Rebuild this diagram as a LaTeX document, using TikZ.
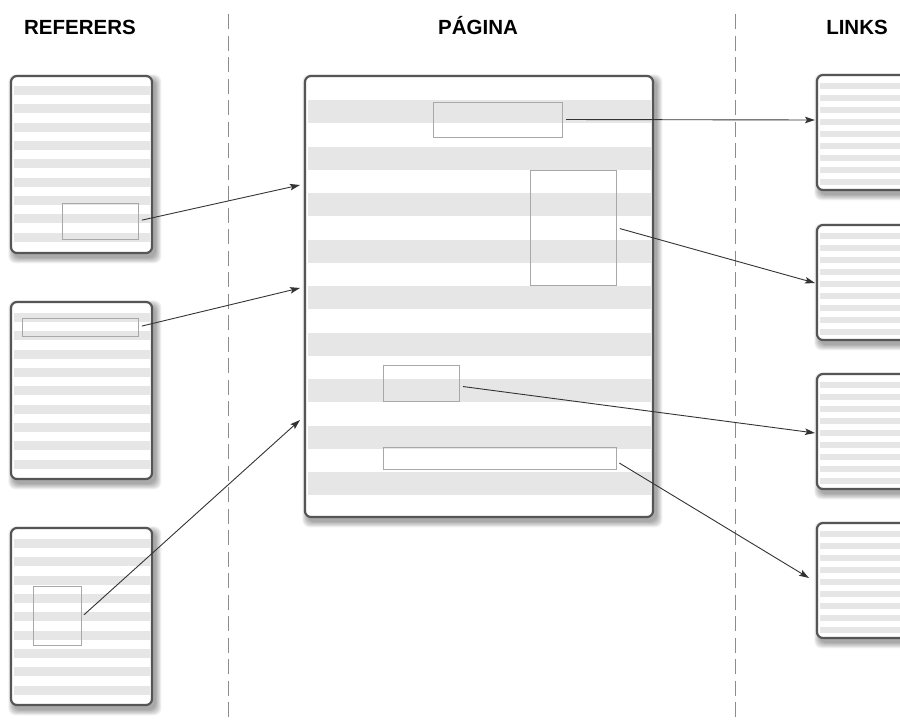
\documentclass[tikz,border=0pt]{standalone}
\usepackage{fontspec}
\setmainfont{Liberation Sans}
\usetikzlibrary{arrows.meta}
\definecolor{stripe}{HTML}{E6E6E6}
\definecolor{framec}{HTML}{555555}
\definecolor{innerc}{HTML}{A8A8A8}
\definecolor{sepc}{HTML}{8C8C8C}
\definecolor{arrowc}{HTML}{333333}
\tikzset{
  pagefill/.style={fill=white,inner sep=0pt,outer sep=0pt,rounded corners=6pt},
  pageborder/.style={draw=framec,line width=2.2pt,rounded corners=6pt},
  innerbox/.style={draw=innerc,line width=0.8pt,inner sep=0pt,outer sep=0pt,anchor=north west},
  linkarrow/.style={draw=arrowc,line width=0.9pt,shorten <=4pt,-{Stealth[length=10pt,width=6.5pt,inset=2pt]}},
  sepline/.style={draw=sepc,line width=1pt,dash pattern=on 15pt off 6.5pt},
  header/.style={font=\fontsize{20.5}{24}\selectfont\bfseries,anchor=base,inner sep=0pt}
}
\newcommand{\pagebox}[9]{%
  \foreach \k in {1,...,7}{%
    \fill[black,opacity=0.055,rounded corners=7pt] ({#2+3-\k*0.8},{#3+4-\k*0.8}) rectangle ({#2+#4+3+\k*0.9},{#3+#5+4+\k*0.9});}
  \node[pagefill,minimum width=#4pt,minimum height=#5pt,anchor=north west] (#1) at (#2,#3) {};
  \pgfmathtruncatemacro\lastidx{#9-1}%
  \foreach \i in {0,...,\lastidx}{%
    \fill[stripe] ({#2+2.5},{#3+#6+\i*#7}) rectangle ({#2+#4-2.5},{#3+#6+\i*#7+#8});}
  \draw[pageborder] (#1.north west) rectangle (#1.south east);
}
\begin{document}
\begin{tikzpicture}[x=1pt,y=-1pt]
\useasboundingbox (0,0) rectangle (900,723);
\clip (0,0) rectangle (900,723);
\fill[white] (0,0) rectangle (900,723);

% separators
\draw[sepline] (228,14) -- (228,723);
\draw[sepline] (735,14) -- (735,723);

% headers
\node[header] (h1) at (80,34) {REFERERS};
\node[header] (h2) at (478,34) {PÁGINA};
\node[header] (h3) at (857,34) {LINKS};

% referers
\pagebox{ref1}{11}{76}{141}{177}{10}{18.33}{9}{9}
\pagebox{ref2}{11}{302}{141}{177}{11}{18.33}{9}{9}
\pagebox{ref3}{11}{528}{141}{177}{11}{18.33}{9}{9}

% main page
\pagebox{main}{305}{76}{348}{441}{24}{46.5}{23}{9}

% links
\pagebox{lk1}{817}{75}{110}{115}{8}{12}{6}{9}
\pagebox{lk2}{817}{225}{110}{115}{8}{12}{6}{9}
\pagebox{lk3}{817}{374}{110}{115}{8}{12}{6}{9}
\pagebox{lk4}{817}{523}{110}{115}{8}{12}{6}{9}

% inner boxes
\node[innerbox,minimum width=76pt,minimum height=36pt] (r1) at (62,203) {};
\node[innerbox,minimum width=116pt,minimum height=18pt] (r2) at (22,318) {};
\node[innerbox,minimum width=48pt,minimum height=59pt] (r3) at (33,586) {};
\node[innerbox,minimum width=129pt,minimum height=35pt] (m1) at (433,102) {};
\node[innerbox,minimum width=86pt,minimum height=115pt] (m2) at (530,170) {};
\node[innerbox,minimum width=76pt,minimum height=36pt] (m3) at (383,365) {};
\node[innerbox,minimum width=233pt,minimum height=22pt] (m4) at (383,447) {};

% arrow targets
\coordinate (t1) at (300,185);
\coordinate (t2) at (300,288);
\coordinate (t3) at (300,420);
\coordinate (u1) at (815,120);
\coordinate (u2) at (815,283);
\coordinate (u3) at (815,433);
\coordinate (u4) at (809,578);

\draw[linkarrow] (r1.east) -- (t1);
\draw[linkarrow] (r2.east) -- (t2);
\draw[linkarrow] ([yshift=-2pt]r3.east) -- (t3);
\draw[linkarrow] (m1.east) -- (u1);
\draw[linkarrow] (m2.east) -- (u2);
\draw[linkarrow] ([yshift=-3pt]m3.east) -- (u3);
\draw[linkarrow] ([yshift=-3pt]m4.east) -- (u4);
\end{tikzpicture}
\end{document}
